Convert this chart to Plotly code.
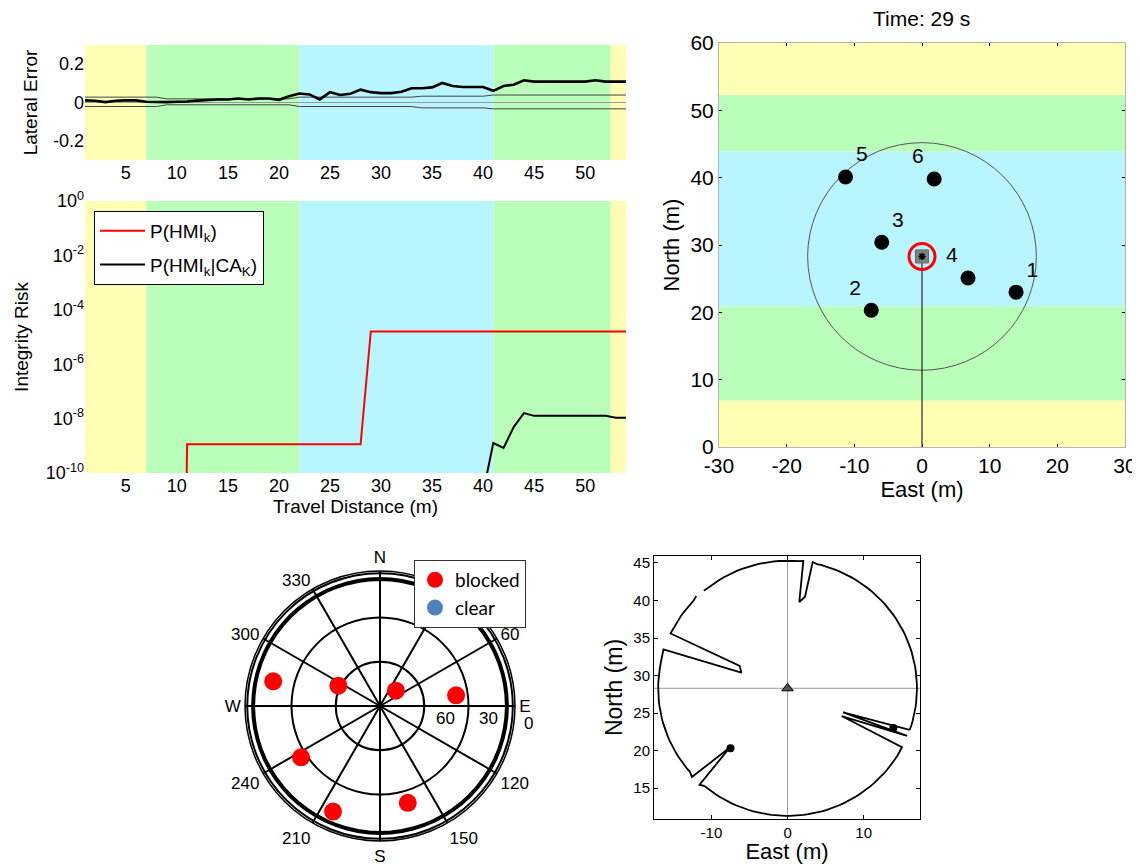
import numpy as np
import plotly.graph_objects as go

# The page adds an 8 px body margin; lay the figure out in page pixels.
PAGE_W, PAGE_H = 1140, 864
OFF = 8
W, H = PAGE_W - OFF, PAGE_H - OFF

# ------------------------------------------------------------------ data
travel = list(range(1, 55))
lateral_error = [0.011, 0.009, 0.002, 0.009, 0.011, 0.011, 0.004, 0.002, 0.002, 0.004,
                 0.005, 0.010, 0.014, 0.016, 0.016, 0.021, 0.016, 0.021, 0.021, 0.014,
                 0.033, 0.047, 0.042, 0.016, 0.054, 0.039, 0.046, 0.067, 0.054, 0.049,
                 0.049, 0.056, 0.074, 0.074, 0.079, 0.102, 0.086, 0.081, 0.081, 0.081,
                 0.061, 0.086, 0.093, 0.116, 0.109, 0.109, 0.109, 0.109, 0.109, 0.109,
                 0.116, 0.109, 0.109, 0.109]
upper_bound = [0.028, 0.028, 0.028, 0.028, 0.028, 0.028, 0.028, 0.028, 0.019, 0.019,
               0.019, 0.019, 0.019, 0.019, 0.019, 0.019, 0.019, 0.019, 0.019, 0.019,
               0.019, 0.028, 0.028, 0.028, 0.028, 0.028, 0.028, 0.028, 0.028, 0.028,
               0.028, 0.028, 0.028, 0.033, 0.033, 0.033, 0.033, 0.033, 0.033, 0.033,
               0.039, 0.039, 0.039, 0.039, 0.039, 0.039, 0.039, 0.039, 0.039, 0.039,
               0.039, 0.039, 0.039, 0.039]
lower_bound = [-0.021, -0.021, -0.021, -0.021, -0.021, -0.021, -0.021, -0.021, -0.012, -0.012,
               -0.012, -0.012, -0.012, -0.012, -0.012, -0.012, -0.012, -0.012, -0.012, -0.012,
               -0.012, -0.021, -0.021, -0.021, -0.021, -0.021, -0.021, -0.021, -0.021, -0.021,
               -0.021, -0.021, -0.021, -0.028, -0.028, -0.028, -0.028, -0.028, -0.028, -0.028,
               -0.033, -0.033, -0.033, -0.033, -0.033, -0.033, -0.033, -0.033, -0.033, -0.033,
               -0.033, -0.033, -0.033, -0.033]

p_hmi = [1e-40, 1e-40, 1e-40, 1e-40, 1e-40, 1e-40, 1e-40, 1e-40, 1e-40, 1e-40,
         1.15e-9, 1.15e-9, 1.15e-9, 1.15e-9, 1.15e-9, 1.15e-9, 1.15e-9, 1.15e-9, 1.15e-9, 1.15e-9,
         1.15e-9, 1.15e-9, 1.15e-9, 1.15e-9, 1.15e-9, 1.15e-9, 1.15e-9, 1.15e-9, 1.6e-5, 1.6e-5,
         1.6e-5, 1.6e-5, 1.6e-5, 1.6e-5, 1.6e-5, 1.6e-5, 1.6e-5, 1.6e-5, 1.6e-5, 1.6e-5,
         1.6e-5, 1.6e-5, 1.6e-5, 1.6e-5, 1.6e-5, 1.6e-5, 1.6e-5, 1.6e-5, 1.6e-5, 1.6e-5,
         1.6e-5, 1.6e-5, 1.6e-5, 1.6e-5]
p_hmi_ca = [1e-40, 1e-40, 1e-40, 1e-40, 1e-40, 1e-40, 1e-40, 1e-40, 1e-40, 1e-40,
            1e-40, 1e-40, 1e-40, 1e-40, 1e-40, 1e-40, 1e-40, 1e-40, 1e-40, 1e-40,
            1e-40, 1e-40, 1e-40, 1e-40, 1e-40, 1e-40, 1e-40, 1e-40, 1e-40, 1e-40,
            1e-40, 1e-40, 1e-40, 1e-40, 1e-40, 1e-40, 1e-40, 1e-40, 1e-40, 1.9e-11,
            1.26e-9, 8.3e-10, 4.9e-9, 1.6e-8, 1.26e-8, 1.26e-8, 1.26e-8, 1.26e-8, 1.26e-8, 1.26e-8,
            1.26e-8, 1.26e-8, 1.07e-8, 1.07e-8]

risk_tickvals = [1e-10, 1e-8, 1e-6, 1e-4, 1e-2, 1]
risk_ticktext = ["10<sup>-10</sup>", "10<sup>-8</sup>", "10<sup>-6</sup>",
                 "10<sup>-4</sup>", "10<sup>-2</sup>", "10<sup>0</sup>"]

# colored zones along travel distance and along north
travel_band_edges = [1, 7, 22, 41, 52.5, 54]
north_band_edges = [0, 6.9, 20.9, 43.9, 52.3, 60]
band_colors = ["#ffffb3", "#b9ffb9", "#b9f5ff", "#b9ffb9", "#ffffb3"]

# map (top right)
landmark_id = ["1", "2", "3", "4", "5", "6"]
landmark_e = [13.9, -7.5, -5.95, 6.8, -11.3, 1.8]
landmark_n = [23.0, 20.3, 30.4, 25.1, 40.1, 39.8]
landmark_textpos = ["top right", "top left", "top right", "top left", "top right", "top left"]
vehicle_e, vehicle_n = 0.0, 28.3
track_e = [0.0, 0.0]
track_n = [0.0, 28.3]
range_radius = 16.9

# sky plot
sat_az = [283, 296, 46, 82, 237, 204, 164]
sat_el = [15.7, 58.6, 75.0, 37.9, 26.2, 11.7, 21.7]
mask_el = 4.0

# scan outline (bottom right): wedge vertices (East, North), clockwise order
scan_radius = 17.0
wedges = [
    [(16.04, 22.76), (7.3, 25.1), (15.7, 21.95), (7.1, 24.6), (15.03, 20.45)],
    [(-11.56, 15.45), (-7.6, 20.4), (-12.57, 16.47)],
    [(-16.31, 33.48), (-6.07, 30.38), (-6.29, 31.27), (-15.38, 35.61)],
    [(-12.0, 40.6), (None, None), (-11.0, 41.3)],
    [(2.07, 45.27), (1.54, 39.8), (2.29, 40.5), (3.3, 45.13)],
]
scan_landmarks = [0, 1]

# ------------------------------------------------------------------ helpers
def px_x(p):
    return (p - OFF) / W


def px_y(p):
    return 1 - (p - OFF) / H


FONT = "Liberation Sans, Arial, Helvetica, sans-serif"

fig = go.Figure()

# ---- panel 1: lateral error
fig.add_trace(go.Scatter(x=travel, y=upper_bound, mode="lines", line=dict(color="#444", width=1),
                         xaxis="x", yaxis="y", showlegend=False))
fig.add_trace(go.Scatter(x=travel, y=lower_bound, mode="lines", line=dict(color="#444", width=1),
                         xaxis="x", yaxis="y", showlegend=False))
fig.add_trace(go.Scatter(x=travel, y=lateral_error, mode="lines", line=dict(color="black", width=2.6),
                         xaxis="x", yaxis="y", showlegend=False))

# ---- panel 2: integrity risk
fig.add_trace(go.Scatter(x=travel, y=p_hmi, mode="lines", line=dict(color="#ff0000", width=2),
                         name="P(HMI<sub>k</sub>)", legendgroup="a", xaxis="x2", yaxis="y2", legend="legend"))
fig.add_trace(go.Scatter(x=travel, y=p_hmi_ca, mode="lines", line=dict(color="black", width=2),
                         name="P(HMI<sub>k</sub>|CA<sub>K</sub>)", legendgroup="b",
                         xaxis="x2", yaxis="y2", legend="legend"))

# ---- panel 3: map
fig.add_trace(go.Scatter(x=track_e, y=track_n, mode="lines", line=dict(color="black", width=1),
                         xaxis="x3", yaxis="y3", showlegend=False))
fig.add_trace(go.Scatter(x=landmark_e, y=landmark_n, mode="markers+text", text=landmark_id,
                         textposition=landmark_textpos, textfont=dict(size=21, color="black"),
                         marker=dict(color="black", size=15), xaxis="x3", yaxis="y3", showlegend=False))
fig.add_trace(go.Scatter(x=[vehicle_e], y=[vehicle_n], mode="markers",
                         marker=dict(symbol="square", size=13, color="#808080", line=dict(color="#666", width=1)),
                         xaxis="x3", yaxis="y3", showlegend=False))
fig.add_trace(go.Scatter(x=[vehicle_e], y=[vehicle_n], mode="markers",
                         marker=dict(symbol="circle-open", size=26, color="#ff0000", line=dict(width=3)),
                         xaxis="x3", yaxis="y3", showlegend=False))
fig.add_trace(go.Scatter(x=[vehicle_e], y=[vehicle_n], mode="markers",
                         marker=dict(symbol="asterisk-open", size=6, color="black", line=dict(width=1.5)),
                         xaxis="x3", yaxis="y3", showlegend=False))

# ---- panel 4: sky plot
mask_theta = list(range(0, 361, 5))
fig.add_trace(go.Scatterpolar(r=[mask_el] * len(mask_theta), theta=mask_theta, mode="lines",
                              line=dict(color="black", width=4), showlegend=False, subplot="polar"))
fig.add_trace(go.Scatterpolar(r=sat_el, theta=sat_az, mode="markers", name="blocked",
                              marker=dict(color="#ff0000", size=18), legend="legend2", subplot="polar"))
fig.add_trace(go.Scatterpolar(r=[None], theta=[None], mode="markers", name="clear",
                              marker=dict(color="#4f81bd", size=18), legend="legend2", subplot="polar"))

# ---- panel 5: scan outline
outline_e, outline_n = [], []
for i, wedge in enumerate(wedges):
    for (e, n) in wedge:
        outline_e.append(e)
        outline_n.append(n)
    # arc to next wedge (clockwise)
    nxt = wedges[(i + 1) % len(wedges)][0]
    e0, n0 = wedge[-1]
    a0 = np.degrees(np.arctan2(n0 - vehicle_n, e0 - vehicle_e))
    a1 = np.degrees(np.arctan2(nxt[1] - vehicle_n, nxt[0] - vehicle_e))
    while a1 > a0:
        a1 -= 360
    steps = max(2, int(abs(a0 - a1) / 2))
    for a in np.linspace(a0, a1, steps)[1:-1]:
        outline_e.append(vehicle_e + scan_radius * np.cos(np.radians(a)))
        outline_n.append(vehicle_n + scan_radius * np.sin(np.radians(a)))
outline_e.append(wedges[0][0][0])
outline_n.append(wedges[0][0][1])

fig.add_trace(go.Scatter(x=outline_e, y=outline_n, mode="lines", line=dict(color="black", width=1.8),
                         connectgaps=False, xaxis="x4", yaxis="y4", showlegend=False))
fig.add_trace(go.Scatter(x=[landmark_e[i] for i in scan_landmarks], y=[landmark_n[i] for i in scan_landmarks],
                         mode="markers", marker=dict(color="black", size=8),
                         xaxis="x4", yaxis="y4", showlegend=False))
fig.add_trace(go.Scatter(x=[vehicle_e], y=[vehicle_n], mode="markers",
                         marker=dict(symbol="triangle-up", size=10, color="#555", line=dict(color="black", width=1)),
                         xaxis="x4", yaxis="y4", showlegend=False))

# ------------------------------------------------------------------ shapes
shapes = []
for k, col in enumerate(band_colors):
    for xr, yr in (("x", "y domain"), ("x2", "y2 domain")):
        shapes.append(dict(type="rect", xref=xr, yref=yr, x0=travel_band_edges[k], x1=travel_band_edges[k + 1],
                           y0=0, y1=1, fillcolor=col, line=dict(width=0), layer="below"))
    shapes.append(dict(type="rect", xref="x3 domain", yref="y3", x0=0, x1=1, y0=north_band_edges[k],
                       y1=north_band_edges[k + 1], fillcolor=col, line=dict(width=0), layer="below"))
shapes.append(dict(type="circle", xref="x3", yref="y3", x0=vehicle_e - range_radius, x1=vehicle_e + range_radius,
                   y0=vehicle_n - range_radius, y1=vehicle_n + range_radius,
                   line=dict(color="#555", width=1), layer="below"))
shapes.append(dict(type="line", xref="x4", yref="y4 domain", x0=vehicle_e, x1=vehicle_e, y0=0, y1=1,
                   line=dict(color="#999", width=1), layer="below"))
shapes.append(dict(type="line", xref="x4 domain", yref="y4", x0=0, x1=1, y0=vehicle_n, y1=vehicle_n,
                   line=dict(color="#999", width=1), layer="below"))

# ------------------------------------------------------------------ annotations
annotations = [
    dict(text="Time: 29 s", x=px_x(921), y=px_y(19), xref="paper", yref="paper",
         xanchor="center", yanchor="middle", showarrow=False, font=dict(size=21)),
]
for lbl, xp, yp in (("60", 445, 718), ("30", 488, 718), ("0", 528, 723)):
    annotations.append(dict(text=lbl, x=px_x(xp), y=px_y(yp), xref="paper", yref="paper",
                            xanchor="center", yanchor="middle", showarrow=False, font=dict(size=17)))

axis_common = dict(showgrid=False, zeroline=False, ticks="", showline=False, automargin=False)

fig.update_layout(
    width=W, height=H,
    margin=dict(l=0, r=0, t=0, b=0, autoexpand=False),
    paper_bgcolor="white", plot_bgcolor="white",
    font=dict(family=FONT, color="black", size=16),
    shapes=shapes, annotations=annotations,
    xaxis=dict(domain=[px_x(85), px_x(626)], anchor="y", range=[1, 54],
               tickvals=[5, 10, 15, 20, 25, 30, 35, 40, 45, 50], tickfont=dict(size=18), **axis_common),
    yaxis=dict(domain=[px_y(160), px_y(45)], anchor="x", range=[-0.3, 0.3],
               tickvals=[-0.2, 0, 0.2], ticktext=["-0.2", "0", "0.2"], tickfont=dict(size=18),
               title=dict(text="Lateral Error", font=dict(size=19), standoff=10),
               showgrid=False, ticks="", showline=False, automargin=False,
               zeroline=True, zerolinecolor="#999", zerolinewidth=1),
    xaxis2=dict(domain=[px_x(85), px_x(626)], anchor="y2", range=[1, 54],
                tickvals=[5, 10, 15, 20, 25, 30, 35, 40, 45, 50], tickfont=dict(size=18),
                title=dict(text="Travel Distance (m)", font=dict(size=19), standoff=2), **axis_common),
    yaxis2=dict(domain=[px_y(473), px_y(201)], anchor="x2", type="log", range=[-10, 0],
                tickvals=risk_tickvals, ticktext=risk_ticktext, tickfont=dict(size=18),
                title=dict(text="Integrity Risk", font=dict(size=19), standoff=12), **axis_common),
    xaxis3=dict(domain=[px_x(719), px_x(1125)], anchor="y3", range=[-30, 30],
                tickvals=[-30, -20, -10, 0, 10, 20, 30], ticktext=["-30", "-20", "-10", "0", "10", "20", "30"],
                tickfont=dict(size=21), title=dict(text="East (m)", font=dict(size=22), standoff=0),
                showgrid=False, zeroline=False, showline=True, linecolor="#b5b5b5", mirror="ticks",
                ticks="inside", ticklen=3, tickcolor="black", automargin=False),
    yaxis3=dict(domain=[px_y(447), px_y(43)], anchor="x3", range=[0, 60],
                tickvals=[0, 10, 20, 30, 40, 50, 60], tickfont=dict(size=21),
                title=dict(text="North (m)", font=dict(size=22), standoff=4),
                showgrid=False, zeroline=False, showline=True, linecolor="#b5b5b5", mirror="ticks",
                ticks="inside", ticklen=3, tickcolor="black", automargin=False),
    xaxis4=dict(domain=[px_x(654), px_x(920)], anchor="y4", range=[-17.55, 17.4],
                tickvals=[-10, 0, 10], ticktext=["-10", "0", "10"], tickfont=dict(size=15),
                title=dict(text="East (m)", font=dict(size=22), standoff=0),
                showgrid=False, zeroline=False, showline=True, linecolor="black", mirror="ticks",
                ticks="inside", ticklen=4, tickcolor="black", automargin=False),
    yaxis4=dict(domain=[px_y(819), px_y(556)], anchor="x4", range=[10.88, 45.93],
                tickvals=[15, 20, 25, 30, 35, 40, 45], tickfont=dict(size=15),
                title=dict(text="North (m)", font=dict(size=23), standoff=4),
                showgrid=False, zeroline=False, showline=True, linecolor="black", mirror="ticks",
                ticks="inside", ticklen=4, tickcolor="black", automargin=False),
    polar=dict(
        domain=dict(x=[px_x(245), px_x(515)], y=[px_y(841), px_y(571)]),
        bgcolor="white",
        angularaxis=dict(rotation=90, direction="clockwise",
                         tickvals=[0, 30, 60, 90, 120, 150, 180, 210, 240, 270, 300, 330],
                         ticktext=["N", "30", "60", "E", "120", "150", "S", "210", "240", "W", "300", "330"],
                         tickfont=dict(size=17), showgrid=True, gridcolor="black", gridwidth=1.5,
                         showline=True, linecolor="black", linewidth=1.5, ticks=""),
        radialaxis=dict(range=[90, -1.5], tickvals=[60, 30, 0], showticklabels=False, ticks="",
                        showgrid=True, gridcolor="black", gridwidth=1.5, showline=False),
    ),
    legend=dict(x=px_x(94), y=px_y(211), xanchor="left", yanchor="top", bgcolor="white",
                bordercolor="black", borderwidth=1, font=dict(size=19), traceorder="grouped",
                tracegroupgap=6, itemwidth=45),
    legend2=dict(x=px_x(414), y=px_y(560), xanchor="left", yanchor="top", bgcolor="white",
                 bordercolor="#333", borderwidth=1, font=dict(family="Lato, Open Sans, sans-serif", size=19)),
)

fig.write_html("out.html")
